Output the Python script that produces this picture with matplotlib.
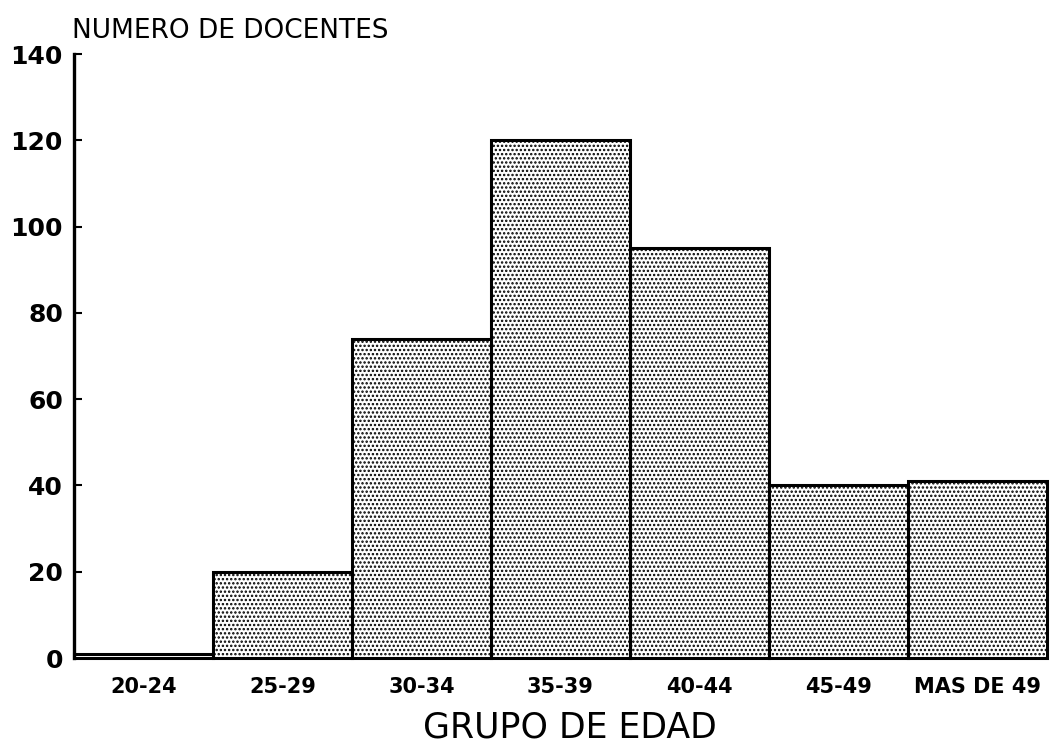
import matplotlib
matplotlib.use("Agg")
import matplotlib.pyplot as plt

# datos
grupos = ["20-24", "25-29", "30-34", "35-39", "40-44", "45-49", "MAS DE 49"]
docentes = [1, 20, 74, 120, 95, 40, 41]
y_ticks = [0, 20, 40, 60, 80, 100, 120, 140]

plt.rcParams['font.family'] = ['DejaVu Sans']
plt.rcParams['hatch.linewidth'] = 1.15

fig = plt.figure(figsize=(10.51, 7.51), dpi=100)
ax = fig.add_axes([74 / 1051, 1 - 658 / 751, (1047 - 74) / 1051, (658 - 54) / 751])

x = list(range(len(grupos)))
# relleno punteado
ax.bar(x, docentes, width=1.0, color="white", edgecolor="black",
       hatch="....", linewidth=0, clip_on=False, zorder=2)
# contorno
ax.bar(x, docentes, width=1.0, fill=False, edgecolor="black",
       linewidth=2.2, clip_on=False, zorder=3)

ax.set_xlim(-0.5, len(grupos) - 0.5)
ax.set_ylim(0, 140)
ax.set_yticks(y_ticks)
ax.set_xticks(x)
ax.set_xticklabels(grupos, fontsize=15, fontweight="bold")
ax.set_yticklabels([str(v) for v in y_ticks], fontsize=18, fontweight="bold")

ax.tick_params(axis="y", direction="in", length=6, width=1.5, pad=8)
ax.tick_params(axis="x", length=0, pad=14)

for s in ["top", "right", "bottom"]:
    ax.spines[s].set_visible(False)
ax.spines["left"].set_linewidth(2.4)

fig.text(72 / 1051, 1 - 38 / 751, "NUMERO DE DOCENTES", fontsize=19,
         ha="left", va="baseline")
fig.text(570 / 1051, 1 - 738 / 751, "GRUPO DE EDAD", fontsize=25,
         ha="center", va="baseline")

fig.savefig("out.png", dpi=100)
